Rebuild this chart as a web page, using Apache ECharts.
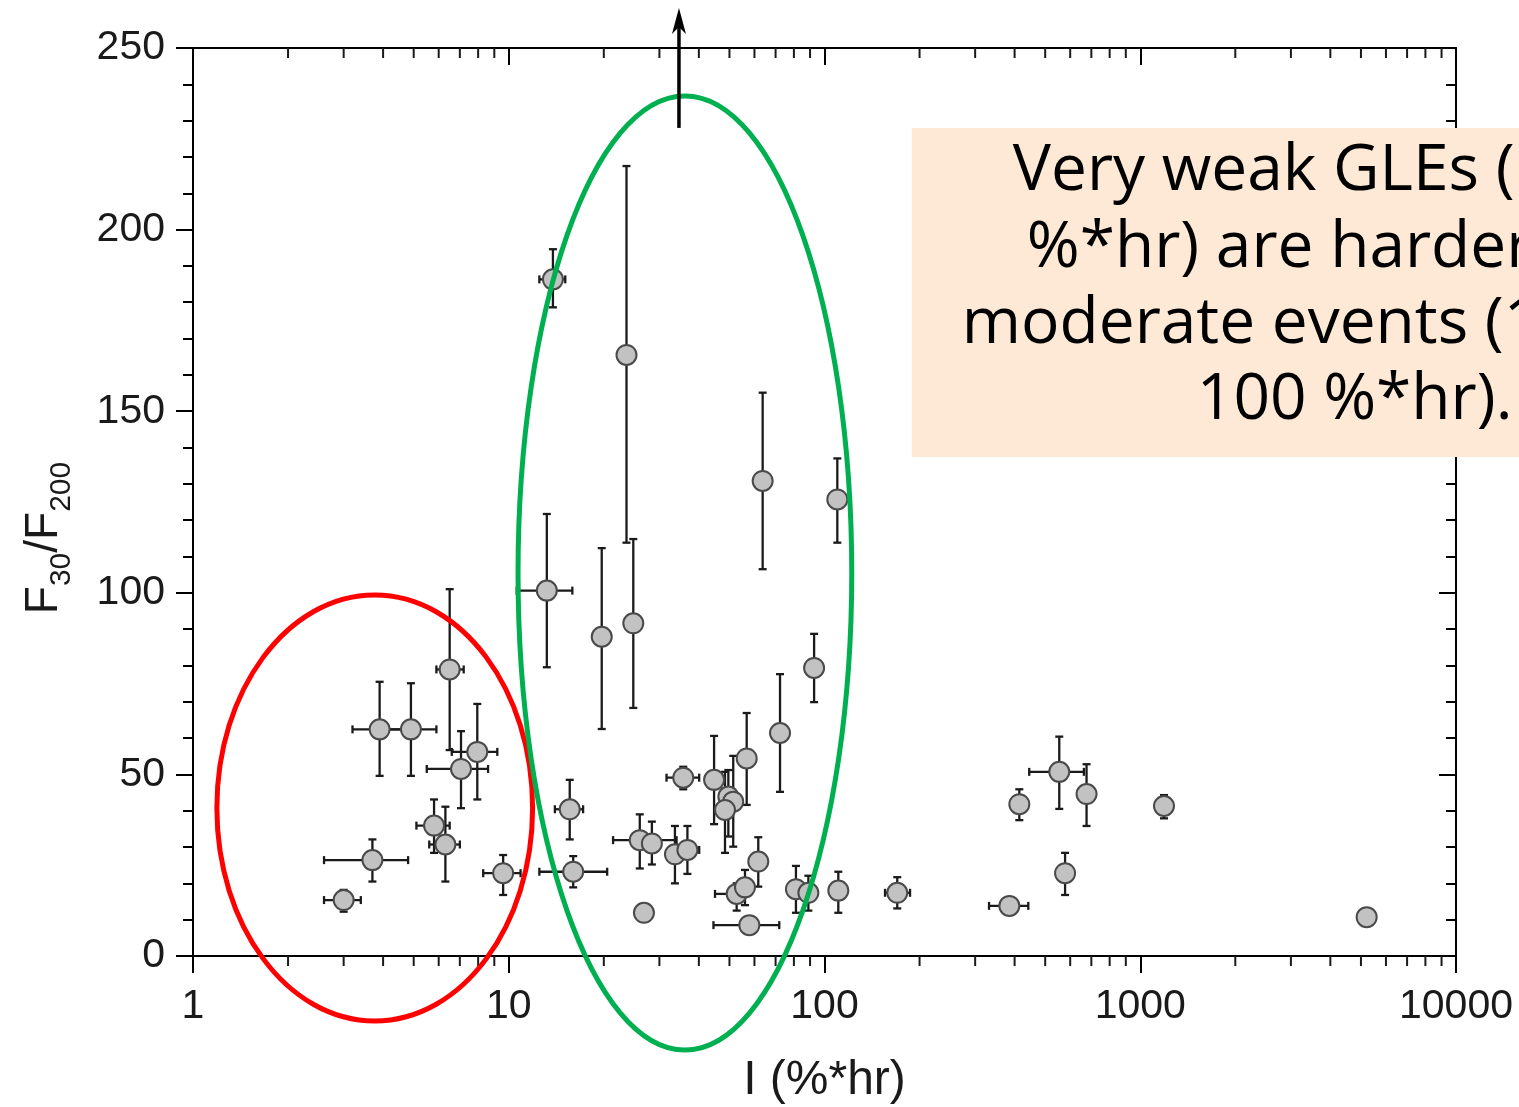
<!DOCTYPE html>
<html>
<head>
<meta charset="utf-8">
<script src="https://cdn.jsdelivr.net/npm/echarts@6/dist/echarts.min.js"></script>
<style>
html, body { margin: 0; padding: 0; background: #fff; overflow: hidden; }
#chart { width: 1519px; height: 1107px; }
</style>
</head>
<body>
<div id="chart"></div>
<script>
// GLE intensity I (%*hr) and spectral ratio F30/F200, with error ranges
var fluence   = [3.0, 3.7, 3.9, 4.9, 6.5, 7.95, 7.06, 5.8, 6.3, 9.6, 15.6, 16.0, 13.2, 13.8, 23.6, 24.8, 19.7, 63.7, 109.8, 92.7, 72.3, 35.7, 44.7, 56.7, 49.6, 51.4, 48.4, 26.0, 28.4, 33.6, 36.8, 26.8, 61.7, 52.7, 56.0, 57.8, 81.2, 88.9, 110.6, 170, 385, 414, 554, 676, 578, 1189, 5213];
var fluenceLo = [2.6, 2.6, 3.2, 4.0, 5.9, 6.6, 5.5, 5.1, 5.6, 8.3, 14.0, 12.5, 10.6, 12.5, 23.2, 24.4, 19.3, 62.5, 106, 89, 68, 31.6, 43, 55, 48, 48, 46.5, 21.4, 27, 32, 34, 25.5, 59, 45, 53, 44.5, 77, 86, 104, 155.5, 332, 400, 445, 655, 560, 1140, 5000];
var fluenceHi = [3.4, 4.8, 4.7, 5.9, 7.2, 9.2, 8.6, 6.5, 7.0, 10.9, 17.2, 20.5, 15.9, 15.1, 24.0, 25.2, 20.1, 65, 113, 96, 76, 40.1, 46.5, 58.5, 51.5, 53, 50.5, 34.0, 29.8, 35.3, 40.1, 28.2, 64.5, 56, 59.5, 71.9, 86, 92, 117, 186.6, 442, 430, 663, 700, 598, 1240, 5450];
var ratio     = [15.4, 26.4, 62.4, 62.4, 78.9, 56.2, 51.5, 35.9, 30.7, 22.8, 40.4, 23.2, 100.6, 186.3, 165.5, 91.6, 87.9, 130.8, 125.7, 79.3, 61.4, 49.1, 48.5, 54.4, 43.9, 42.5, 40.2, 31.9, 31.0, 28.0, 29.2, 11.9, 26.0, 17.1, 18.9, 8.5, 18.4, 17.4, 18.0, 17.4, 13.8, 41.8, 50.7, 44.6, 22.8, 41.3, 10.7];
var ratioLo   = [12.2, 20.5, 49.6, 49.6, 56.7, 43.1, 40.7, 28.4, 20.5, 16.8, 32.1, 18.9, 79.5, 178.6, 113.8, 68.3, 62.5, 106.5, 113.8, 69.9, 45.2, 45.9, 36.3, 41.6, 32.9, 30.1, 28.4, 24.1, 25.2, 20.0, 22.6, 10.5, 19.1, 12.5, 14.0, 8.0, 11.9, 12.5, 11.9, 13.1, 12.5, 37.4, 40.5, 35.8, 16.8, 37.9, 9.8];
var ratioHi   = [18.2, 32.1, 75.5, 75.1, 101, 69.4, 61.9, 43.1, 41.1, 27.8, 48.5, 27.5, 121.7, 194.6, 217.5, 114.8, 112.3, 155.1, 137.0, 88.7, 77.6, 52.1, 60.6, 66.9, 51.2, 55.1, 50.7, 39.0, 37.0, 35.8, 35.8, 13.5, 32.7, 20.0, 23.7, 9.0, 24.8, 22.1, 23.2, 21.7, 15.0, 45.9, 60.4, 52.8, 28.4, 44.3, 11.6];

var xMin = 1, xMax = 10000;
var yMin = 0, yMax = 250, yStep = 50;

// minor ticks of the log axis: 2..9 in every decade
var xMinorTicks = [];
for (var d = 1; d < xMax; d *= 10) {
    for (var k = 2; k <= 9; k++) xMinorTicks.push(k * d);
}

var textLines = ['Very weak GLEs (', '%*hr) are harder', 'moderate events (1', '100 %*hr).'];

var axisFont = 'Liberation Sans';
var chart = echarts.init(document.getElementById('chart'));

var errData = fluence.map(function (x, i) {
    return [x, ratio[i], fluenceLo[i], fluenceHi[i], ratioLo[i], ratioHi[i]];
});
var ptData = fluence.map(function (x, i) { return [x, ratio[i]]; });

function seg(a, b, w) {
    return { type: 'line', shape: { x1: a[0], y1: a[1], x2: b[0], y2: b[1] },
             style: { stroke: '#1a1a1a', lineWidth: w || 2 } };
}

var option = {
    backgroundColor: '#fff',
    animation: false,
    grid: { left: 193, right: 63, top: 48, bottom: 151, containLabel: false, outerBoundsMode: 'none' },
    xAxis: [{
        type: 'log', logBase: 10, min: xMin, max: xMax, position: 'bottom',
        name: 'I (%*hr)', nameLocation: 'middle', nameGap: 101,
        nameTextStyle: { fontSize: 48, color: '#1a1a1a', fontFamily: axisFont },
        axisLine: { onZero: false, lineStyle: { color: '#000', width: 2 } },
        axisTick: { length: 17, lineStyle: { color: '#000', width: 2 } },
        axisLabel: { fontSize: 41, color: '#1a1a1a', margin: 30, fontFamily: axisFont,
                     formatter: function (v) { return String(v); } },
        splitLine: { show: false }
    }, {
        type: 'log', logBase: 10, min: xMin, max: xMax, position: 'top',
        axisLine: { onZero: false, lineStyle: { color: '#000', width: 2 } },
        axisTick: { inside: true, length: 17, lineStyle: { color: '#000', width: 2 } },
        axisLabel: { show: false },
        splitLine: { show: false }
    }],
    yAxis: [{
        type: 'value', min: yMin, max: yMax, interval: yStep, position: 'left',
        name: '{m|F}{s|30}{m|/F}{s|200}', nameLocation: 'middle', nameGap: 126,
        nameTextStyle: {
            color: '#1a1a1a', fontFamily: axisFont, padding: [0, 72, 0, 0],
            rich: {
                m: { fontSize: 46, lineHeight: 46, verticalAlign: 'top', color: '#1a1a1a', fontFamily: axisFont },
                s: { fontSize: 30, lineHeight: 30, padding: [36, 0, 0, 0], color: '#1a1a1a', fontFamily: axisFont }
            }
        },
        axisLine: { onZero: false, lineStyle: { color: '#000', width: 2 } },
        axisTick: { length: 17, lineStyle: { color: '#000', width: 2 } },
        minorTick: { show: true, splitNumber: 5, length: 10, lineStyle: { color: '#000', width: 2 } },
        axisLabel: { fontSize: 41, color: '#1a1a1a', margin: 28, fontFamily: axisFont },
        splitLine: { show: false }
    }, {
        type: 'value', min: yMin, max: yMax, interval: yStep, position: 'right',
        axisLine: { onZero: false, lineStyle: { color: '#000', width: 2 } },
        axisTick: { inside: true, length: 17, lineStyle: { color: '#000', width: 2 } },
        minorTick: { show: true, splitNumber: 5, length: 10, lineStyle: { color: '#000', width: 2 } },
        axisLabel: { show: false },
        splitLine: { show: false }
    }],
    series: [{
        // minor ticks of both x axes
        type: 'custom', clip: false, silent: true, z: 1,
        data: xMinorTicks.map(function (v) { return [v]; }),
        encode: { x: 0 },
        renderItem: function (params, api) {
            var v = api.value(0);
            var b = api.coord([v, yMin]);
            var t = api.coord([v, yMax]);
            return { type: 'group', children: [
                seg([b[0], b[1]], [b[0], b[1] + 10]),
                seg([t[0], t[1]], [t[0], t[1] + 10])
            ] };
        }
    }, {
        // error bars
        type: 'custom', z: 3, silent: true,
        data: errData,
        encode: { x: 0, y: 1 },
        renderItem: function (params, api) {
            var x = api.value(0), y = api.value(1);
            var l = api.coord([api.value(2), y]);
            var r = api.coord([api.value(3), y]);
            var lo = api.coord([x, api.value(4)]);
            var hi = api.coord([x, api.value(5)]);
            var c = 4, w = 2.3;
            return { type: 'group', children: [
                seg(l, r, w),
                seg([l[0], l[1] - c], [l[0], l[1] + c], w),
                seg([r[0], r[1] - c], [r[0], r[1] + c], w),
                seg(lo, hi, w),
                seg([lo[0] - c, lo[1]], [lo[0] + c, lo[1]], w),
                seg([hi[0] - c, hi[1]], [hi[0] + c, hi[1]], w)
            ] };
        }
    }, {
        type: 'scatter', z: 4, silent: true,
        data: ptData,
        symbol: 'circle', symbolSize: 20,
        itemStyle: { color: '#c2c2c2', borderColor: '#4a4a4a', borderWidth: 2, opacity: 1 }
    }]
};

chart.setOption(option);

// annotations placed in data coordinates
function px(x, y) { return chart.convertToPixel({ xAxisIndex: 0, yAxisIndex: 0 }, [x, y]); }

function ellipse(xl, xr, yt, yb, color) {
    var a = px(xl, yt), b = px(xr, yb);
    return { type: 'ellipse', z: 10, silent: true,
             shape: { cx: (a[0] + b[0]) / 2, cy: (a[1] + b[1]) / 2,
                      rx: Math.abs(b[0] - a[0]) / 2, ry: Math.abs(b[1] - a[1]) / 2 },
             style: { fill: null, stroke: color, lineWidth: 5 } };
}

var arrowBase = px(34.6, 228), arrowTip = px(34.6, 261);
var boxTL = px(189, 228), boxBR = px(xMax, 137.4);
var lineOffsets = [[101, 44], [115, 121], [50, 197], [285, 273]];

var graphics = [
    ellipse(1.19, 11.9, 99.4, -17.9, '#ff0000'),
    ellipse(10.7, 122, 236.8, -25.9, '#00b050'),
    { type: 'line', z: 10, silent: true,
      shape: { x1: arrowBase[0], y1: arrowBase[1], x2: arrowTip[0], y2: arrowTip[1] + 14 },
      style: { stroke: '#000', lineWidth: 3.5 } },
    { type: 'polygon', z: 10, silent: true,
      shape: { points: [[arrowTip[0], arrowTip[1]], [arrowTip[0] - 7, arrowTip[1] + 26],
                        [arrowTip[0], arrowTip[1] + 19], [arrowTip[0] + 7, arrowTip[1] + 26]] },
      style: { fill: '#000' } },
    { type: 'rect', z: 11, silent: true,
      shape: { x: boxTL[0], y: boxTL[1], width: 1519 - boxTL[0], height: boxBR[1] - boxTL[1] },
      style: { fill: '#fde9d5' } }
];
textLines.forEach(function (t, i) {
    graphics.push({ type: 'text', z: 12, silent: true,
        style: { text: t, x: boxTL[0] + lineOffsets[i][0], y: boxTL[1] + lineOffsets[i][1],
                 font: '64px "Open Sans"', fill: '#000', textVerticalAlign: 'middle' } });
});

chart.setOption({ graphic: graphics });
</script>
</body>
</html>
